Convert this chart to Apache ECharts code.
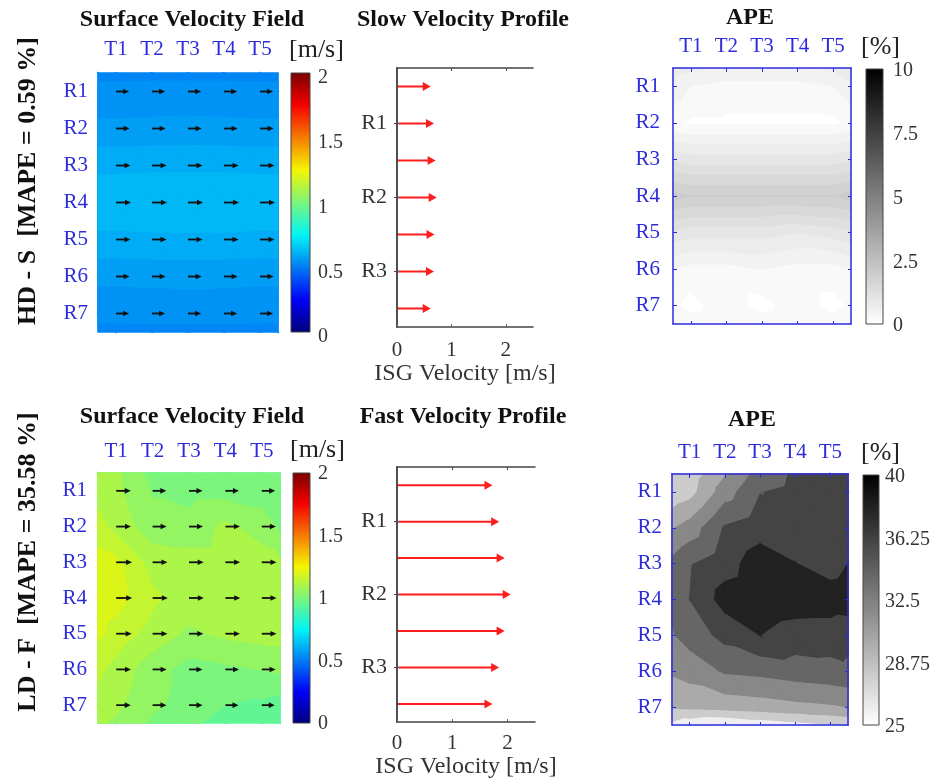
<!DOCTYPE html>
<html>
<head>
<meta charset="utf-8">
<title>Surface velocity fields, velocity profiles and APE</title>
<script src="https://cdn.jsdelivr.net/npm/echarts@6/dist/echarts.min.js"></script>
<style>
  html, body { margin: 0; padding: 0; background: #ffffff; }
  #chart { width: 934px; height: 780px; }
</style>
</head>
<body>
<div id="chart"></div>
<script>
// ---------------- data ----------------
const colLabels = ['T1', 'T2', 'T3', 'T4', 'T5'];
const rowLabels = ['R1', 'R2', 'R3', 'R4', 'R5', 'R6', 'R7'];
const stationX = [1, 2, 3, 4, 5];
const stationY = [1, 2, 3, 4, 5, 6, 7];
// field nodes: box edges plus the T / R stations
const nodeX = [0.5, 1, 2, 3, 4, 5, 5.5];
const nodeY = [0.5, 1, 2, 3, 4, 5, 6, 7, 7.5];

// surface velocity [m/s], rows: top edge, R1..R7, bottom edge; cols: left edge, T1..T5, right edge
const slowSurface = [
  [0.540, 0.540, 0.541, 0.541, 0.541, 0.540, 0.540],
  [0.560, 0.560, 0.561, 0.561, 0.561, 0.560, 0.560],
  [0.580, 0.580, 0.581, 0.582, 0.581, 0.580, 0.580],
  [0.620, 0.620, 0.621, 0.621, 0.621, 0.620, 0.620],
  [0.640, 0.640, 0.641, 0.641, 0.641, 0.640, 0.640],
  [0.620, 0.620, 0.621, 0.621, 0.621, 0.620, 0.620],
  [0.580, 0.580, 0.581, 0.582, 0.581, 0.580, 0.580],
  [0.560, 0.560, 0.561, 0.561, 0.561, 0.560, 0.560],
  [0.540, 0.540, 0.541, 0.541, 0.541, 0.540, 0.540]
];
const fastSurface = [
  [1.12, 1.11, 1.03, 1.02, 1.02, 1.01, 1.00],
  [1.13, 1.11, 1.045, 1.03, 1.03, 1.02, 1.01],
  [1.17, 1.13, 1.07, 1.07, 1.11, 1.08, 1.04],
  [1.22, 1.21, 1.13, 1.12, 1.12, 1.12, 1.11],
  [1.23, 1.22, 1.16, 1.13, 1.13, 1.12, 1.12],
  [1.21, 1.18, 1.13, 1.09, 1.11, 1.12, 1.12],
  [1.16, 1.13, 1.07, 1.03, 1.04, 1.05, 1.06],
  [1.13, 1.11, 1.06, 1.03, 1.00, 0.99, 0.98],
  [1.11, 1.09, 1.04, 1.01, 0.98, 0.97, 0.96]
];
// absolute percentage error [%]
const slowApe = [
  [0.9, 0.8, 0.7, 0.7, 0.7, 0.8, 0.9],
  [0.7, 0.5, 0.4, 0.4, 0.4, 0.5, 0.7],
  [0.3, 0.2, 0.2, 0.2, 0.2, 0.2, 0.3],
  [1.2, 1.1, 1.1, 1.1, 1.1, 1.1, 1.2],
  [2.1, 2.0, 2.0, 2.0, 2.0, 2.0, 2.1],
  [1.2, 1.1, 1.1, 1.1, 1.0, 1.1, 1.2],
  [0.5, 0.4, 0.4, 0.5, 0.4, 0.4, 0.5],
  [0.3, 0.15, 0.4, 0.15, 0.4, 0.15, 0.3],
  [0.5, 0.4, 0.5, 0.4, 0.5, 0.4, 0.5]
];
const fastApe = [
  [28.3, 28.8, 31.8, 34.8, 36.3, 36.5, 36.5],
  [28.5, 29.2, 33.0, 35.9, 36.5, 36.6, 36.5],
  [31.8, 32.8, 36.2, 37.2, 37.0, 37.0, 37.0],
  [34.5, 35.8, 37.2, 39.0, 38.05, 37.1, 38.0],
  [34.5, 36.0, 38.8, 39.3, 39.0, 39.0, 39.2],
  [33.8, 34.8, 36.6, 38.0, 37.1, 37.0, 36.5],
  [32.3, 32.8, 34.2, 34.5, 35.0, 35.3, 35.6],
  [30.2, 30.4, 30.7, 31.0, 31.4, 31.7, 32.0],
  [27.5, 26.5, 25.8, 26.6, 27.2, 27.8, 28.2]
];
// contour levels
const slowSurfaceLevels = [0.5, 0.525, 0.55, 0.575, 0.6, 0.625, 0.65, 0.675, 0.7];
const fastSurfaceLevels = [0.9, 0.95, 1.0, 1.05, 1.1, 1.15, 1.2, 1.25, 1.3];
const slowApeLevels = [0, 0.25, 0.5, 0.75, 1, 1.25, 1.5, 1.75, 2, 2.25, 2.5];
const fastApeLevels = [25, 26, 28, 30, 32, 34, 36, 38, 40];

// ISG velocity profiles [m/s], top to bottom
const profileRows = [1, 2, 3, 4, 5, 6, 7];
const slowProfile = [0.62, 0.68, 0.71, 0.73, 0.69, 0.68, 0.62];
const fastProfile = [1.73, 1.85, 1.95, 2.06, 1.95, 1.85, 1.73];
const profileLabelRows = [2, 4, 6];
const profileLabels = ['R1', 'R2', 'R3'];
const profileTicks = [0, 1, 2];

// colour bar ticks
const velocityTicks = [0, 0.5, 1, 1.5, 2];
const slowApeTicks = [0, 2.5, 5, 7.5, 10];
const fastApeTicks = [25, 28.75, 32.5, 36.25, 40];

// ---------------- styling helpers ----------------
const SERIF = '"Liberation Serif", "Times New Roman", serif';
const BLUE = '#2c2cdc';
const INK = '#333333';

function clamp01(v) { return Math.max(0, Math.min(1, v)); }
function jet(f) {
  const r = clamp01(1.5 - Math.abs(4 * f - 3));
  const g = clamp01(1.5 - Math.abs(4 * f - 2));
  const b = clamp01(1.5 - Math.abs(4 * f - 1));
  return 'rgb(' + Math.round(r * 245) + ',' + Math.round(g * 245) + ',' + Math.round(b * 245) + ')';
}
function grayRev(f) {
  const g = Math.round(255 * (1 - clamp01(f)));
  return 'rgb(' + g + ',' + g + ',' + g + ')';
}

// keep the part of a polygon (vertices [x, y, value]) at or above a level
function clipAbove(poly, level) {
  const out = [];
  const n = poly.length;
  for (let i = 0; i < n; i++) {
    const a = poly[i], b = poly[(i + 1) % n];
    const ina = a[2] >= level, inb = b[2] >= level;
    if (ina) out.push(a);
    if (ina !== inb) {
      const t = (level - a[2]) / (b[2] - a[2]);
      out.push([a[0] + t * (b[0] - a[0]), a[1] + t * (b[1] - a[1]), level]);
    }
  }
  return out;
}

// filled contours: the whole field is one item; each level paints the region above it,
// lowest level first, so higher bands lie on top of the lower ones
function contourSeries(field, levels, vmin, vmax, cmap, axisIndex) {
  return {
    type: 'custom', coordinateSystem: 'cartesian2d',
    xAxisIndex: axisIndex, yAxisIndex: axisIndex,
    silent: true, animation: false, z: 2,
    data: [[nodeX[0], nodeY[0]]],
    renderItem: function (params, api) {
      const node = function (ci, ri) {
        const p = api.coord([nodeX[ci], nodeY[ri]]);
        return [p[0], p[1], field[ri][ci]];
      };
      const tris = [];
      for (let r = 0; r < nodeY.length - 1; r++) {
        for (let c = 0; c < nodeX.length - 1; c++) {
          const a = node(c, r), b = node(c + 1, r), d = node(c + 1, r + 1), e = node(c, r + 1);
          tris.push([a, b, d], [a, d, e]);
        }
      }
      const children = [];
      for (let k = 0; k < levels.length; k++) {
        const col = cmap((levels[k] - vmin) / (vmax - vmin));
        tris.forEach(function (tri) {
          const poly = k > 0 ? clipAbove(tri, levels[k]) : tri;
          if (poly.length >= 3) {
            children.push({
              type: 'polygon',
              shape: { points: poly.map(function (p) { return [p[0], p[1]]; }) },
              style: { fill: col, stroke: col, lineWidth: 1.2 }
            });
          }
        });
      }
      return { type: 'group', children: children };
    }
  };
}

// quiver arrows at each station
function quiverSeries(field, axisIndex, lenPx) {
  const data = [];
  let uMax = 0;
  stationY.forEach(function (y, i) {
    stationX.forEach(function (x, j) {
      const u = field[i + 1][j + 1];
      uMax = Math.max(uMax, u);
      data.push([x, y, u]);
    });
  });
  return {
    type: 'custom', coordinateSystem: 'cartesian2d',
    xAxisIndex: axisIndex, yAxisIndex: axisIndex,
    silent: true, animation: false, z: 4,
    data: data,
    renderItem: function (params, api) {
      const p = api.coord([api.value(0), api.value(1)]);
      const L = lenPx * api.value(2) / uMax;
      const tip = p[0] + L, head = 6, half = 2.8;
      return {
        type: 'group',
        children: [
          { type: 'line', shape: { x1: p[0], y1: p[1], x2: tip - head + 1, y2: p[1] },
            style: { stroke: '#111111', lineWidth: 1.8 } },
          { type: 'polygon', shape: { points: [[tip, p[1]], [tip - head, p[1] - half], [tip - head, p[1] + half]] },
            style: { fill: '#111111' } }
        ]
      };
    }
  };
}

// red velocity profile arrows from zero to the measured value
function profileSeries(values, axisIndex) {
  return {
    type: 'custom', coordinateSystem: 'cartesian2d',
    xAxisIndex: axisIndex, yAxisIndex: axisIndex,
    silent: true, animation: false, z: 3,
    data: values.map(function (v, i) { return [v, profileRows[i]]; }),
    renderItem: function (params, api) {
      const p0 = api.coord([0, api.value(1)]);
      const p1 = api.coord([api.value(0), api.value(1)]);
      const head = 8, half = 4.5;
      return {
        type: 'group',
        children: [
          { type: 'line', shape: { x1: p0[0], y1: p0[1], x2: p1[0] - head + 1, y2: p1[1] },
            style: { stroke: '#ff1c1c', lineWidth: 2 } },
          { type: 'polygon', shape: { points: [[p1[0], p1[1]], [p1[0] - head, p1[1] - half], [p1[0] - head, p1[1] + half]] },
            style: { fill: '#ff1c1c' } }
        ]
      };
    }
  };
}

// colour bar drawn as a gradient rectangle spanning its own axis
function colorbarSeries(vmin, vmax, cmap, axisIndex) {
  const stops = [];
  for (let s = 0; s <= 32; s++) stops.push({ offset: s / 32, color: cmap(1 - s / 32) });
  return {
    type: 'custom', coordinateSystem: 'cartesian2d',
    xAxisIndex: axisIndex, yAxisIndex: axisIndex,
    silent: true, animation: false, z: 2,
    data: [[0, vmin, 1, vmax]],
    renderItem: function (params, api) {
      const p0 = api.coord([api.value(0), api.value(3)]);
      const p1 = api.coord([api.value(2), api.value(1)]);
      return {
        type: 'rect',
        shape: { x: p0[0], y: p0[1], width: p1[0] - p0[0], height: p1[1] - p0[1] },
        style: { fill: new echarts.graphic.LinearGradient(0, 0, 0, 1, stops), stroke: '#444444', lineWidth: 1 }
      };
    }
  };
}

// ---------------- layout ----------------
const grid = [
  { left: 98,  top: 73,  width: 180, height: 259 },  // 0 slow surface field
  { left: 291, top: 73,  width: 19,  height: 259 },  // 1 slow velocity colour bar
  { left: 397, top: 68,  width: 136, height: 259 },  // 2 slow profile
  { left: 673, top: 68,  width: 178, height: 256 },  // 3 slow APE
  { left: 866, top: 69,  width: 17,  height: 255 },  // 4 slow APE colour bar
  { left: 98,  top: 473, width: 182, height: 250 },  // 5 fast surface field
  { left: 293, top: 473, width: 17,  height: 250 },  // 6 fast velocity colour bar
  { left: 397, top: 467, width: 138, height: 256 },  // 7 fast profile
  { left: 672, top: 474, width: 176, height: 251 },  // 8 fast APE
  { left: 863, top: 475, width: 16,  height: 250 }   // 9 fast APE colour bar
];
grid.forEach(function (g) { g.containLabel = false; });

const xAxis = [], yAxis = [], series = [];
const noSplit = { show: false };

function labelStyle(color, size, margin) {
  return { color: color, fontFamily: SERIF, fontSize: size, margin: margin };
}

// field / APE panel: T labels on top, R labels on the left; framed panels get a blue box with inner ticks
function mapPanel(g, framed, mTop, mLeft) {
  const line = { show: framed, lineStyle: { color: BLUE, width: 1.5 } };
  const tickX = { show: framed, inside: true, length: 4, customValues: stationX, lineStyle: { color: BLUE } };
  const tickY = { show: framed, inside: true, length: 4, customValues: stationY, lineStyle: { color: BLUE } };
  xAxis[g] = { gridIndex: g, type: 'value', min: 0.5, max: 5.5, position: 'top', z: 6,
    axisLine: line, axisTick: tickX, splitLine: noSplit,
    axisLabel: Object.assign(labelStyle(BLUE, 21, mTop), { customValues: stationX, formatter: function (v) { return colLabels[Math.round(v) - 1]; } }) };
  yAxis[g] = { gridIndex: g, type: 'value', min: 0.5, max: 7.5, inverse: true, position: 'left', z: 6,
    axisLine: line, axisTick: tickY, splitLine: noSplit,
    axisLabel: Object.assign(labelStyle(BLUE, 21, mLeft), { customValues: stationY, formatter: function (v) { return rowLabels[Math.round(v) - 1]; } }) };
}

// colour bar axis; labels sit a few pixels below their tick
function colorbarAxes(g, vmin, vmax, ticks, margin, drop) {
  xAxis[g] = { gridIndex: g, type: 'value', min: 0, max: 1, show: false };
  const label = Object.assign(labelStyle(INK, 20, margin), { customValues: ticks,
    formatter: function (v) { return String(v); } });
  if (drop > 0) { label.verticalAlign = 'top'; label.lineHeight = 2 * drop; }
  yAxis[g] = { gridIndex: g, type: 'value', min: vmin, max: vmax, position: 'right',
    axisLine: { show: false }, axisTick: { show: false }, splitLine: noSplit, axisLabel: label };
}

function profileAxes(g, nameGap, labelMargin) {
  const line = { show: true, lineStyle: { color: '#444444', width: 1.5 } };
  xAxis[g] = { gridIndex: g, type: 'value', min: 0, max: 2.5, position: 'bottom', z: 6,
    axisLine: line, splitLine: noSplit,
    axisTick: { show: true, inside: true, length: 3, customValues: profileTicks, lineStyle: { color: '#666666' } },
    axisLabel: Object.assign(labelStyle(INK, 21, labelMargin), { customValues: profileTicks, formatter: function (v) { return String(v); } }),
    name: 'ISG Velocity [m/s]', nameLocation: 'middle', nameGap: nameGap,
    nameTextStyle: { color: INK, fontFamily: SERIF, fontSize: 24 } };
  yAxis[g] = { gridIndex: g, type: 'value', min: 0.5, max: 7.5, inverse: true, position: 'left', z: 6,
    axisLine: line, splitLine: noSplit,
    axisTick: { show: true, inside: true, length: 3, customValues: profileLabelRows, lineStyle: { color: '#666666' } },
    axisLabel: Object.assign(labelStyle(INK, 22, 10), { customValues: profileLabelRows,
      formatter: function (v) { return profileLabels[profileLabelRows.indexOf(Math.round(v))]; } }) };
}

// opposite-side frame axes (line and inner ticks only)
function frameAxes(g, color, xPos, xTicks, yTicks, xmin, xmax, ymin, ymax) {
  const line = { show: true, lineStyle: { color: color, width: 1.5 } };
  xAxis.push({ gridIndex: g, type: 'value', min: xmin, max: xmax, position: xPos, z: 6,
    axisLine: line, splitLine: noSplit, axisLabel: { show: false },
    axisTick: { show: true, inside: true, length: 3, customValues: xTicks, lineStyle: { color: color } } });
  yAxis.push({ gridIndex: g, type: 'value', min: ymin, max: ymax, inverse: true, position: 'right', z: 6,
    axisLine: line, splitLine: noSplit, axisLabel: { show: false },
    axisTick: { show: true, inside: true, length: 3, customValues: yTicks, lineStyle: { color: color } } });
}

// top row: HD - S
mapPanel(0, false, 13, 10);
colorbarAxes(1, 0, 2, velocityTicks, 8, 5);
profileAxes(2, 29, 13);
mapPanel(3, true, 11, 13);
colorbarAxes(4, 0, 10, slowApeTicks, 10, 2);
// bottom row: LD - F
mapPanel(5, false, 11, 11);
colorbarAxes(6, 0, 2, velocityTicks, 8, 1);
profileAxes(7, 25, 11);
mapPanel(8, true, 11, 10);
colorbarAxes(9, 25, 40, fastApeTicks, 6, 2);

// frames on the far sides of profile and APE boxes
frameAxes(2, '#444444', 'top', [1, 2], profileLabelRows, 0, 2.5, 0.5, 7.5);
frameAxes(3, BLUE, 'bottom', stationX, stationY, 0.5, 5.5, 0.5, 7.5);
frameAxes(7, '#444444', 'top', [1, 2], profileLabelRows, 0, 2.5, 0.5, 7.5);
frameAxes(8, BLUE, 'bottom', stationX, stationY, 0.5, 5.5, 0.5, 7.5);

series.push(contourSeries(slowSurface, slowSurfaceLevels, 0, 2, jet, 0));
series.push(quiverSeries(slowSurface, 0, 15));
series.push(colorbarSeries(0, 2, jet, 1));
series.push(profileSeries(slowProfile, 2));
series.push(contourSeries(slowApe, slowApeLevels, 0, 10, grayRev, 3));
series.push(colorbarSeries(0, 10, grayRev, 4));

series.push(contourSeries(fastSurface, fastSurfaceLevels, 0, 2, jet, 5));
series.push(quiverSeries(fastSurface, 5, 16));
series.push(colorbarSeries(0, 2, jet, 6));
series.push(profileSeries(fastProfile, 7));
series.push(contourSeries(fastApe, fastApeLevels, 25, 40, grayRev, 8));
series.push(colorbarSeries(25, 40, grayRev, 9));

// ---------------- text ----------------
function txt(text, x, y, font, color, align, rot) {
  return {
    type: 'text', x: x, y: y, rotation: rot || 0, z: 10, silent: true,
    style: { text: text, font: font, fill: color || '#111111',
      textAlign: align || 'center', textVerticalAlign: 'middle',
      align: align || 'center', verticalAlign: 'middle' }
  };
}
const TITLE = 'bold 24px ' + SERIF;
const UNIT = '26px ' + SERIF;
const SIDE = 'bold 26px ' + SERIF;
const graphic = [
  txt('Surface Velocity Field', 192, 20, TITLE),
  txt('Slow Velocity Profile', 463, 20, TITLE),
  txt('APE', 750, 18, TITLE),
  txt('Surface Velocity Field', 192, 417, TITLE),
  txt('Fast Velocity Profile', 463, 417, TITLE),
  txt('APE', 752, 420, TITLE),
  txt('[m/s]', 289, 50, UNIT, '#222222', 'left'),
  txt('[m/s]', 290, 450, UNIT, '#222222', 'left'),
  txt('[%]', 861, 47, UNIT, '#222222', 'left'),
  txt('[%]', 861, 453, UNIT, '#222222', 'left'),
  txt('HD - S  [MAPE = 0.59 %]', 28, 181, SIDE, '#111111', 'center', Math.PI / 2),
  txt('LD - F  [MAPE = 35.58 %]', 28, 562, SIDE, '#111111', 'center', Math.PI / 2)
];

const chart = echarts.init(document.getElementById('chart'), null, { renderer: 'canvas' });
chart.setOption({
  backgroundColor: '#ffffff',
  animation: false,
  grid: grid,
  xAxis: xAxis,
  yAxis: yAxis,
  series: series,
  graphic: graphic
});
</script>
</body>
</html>
